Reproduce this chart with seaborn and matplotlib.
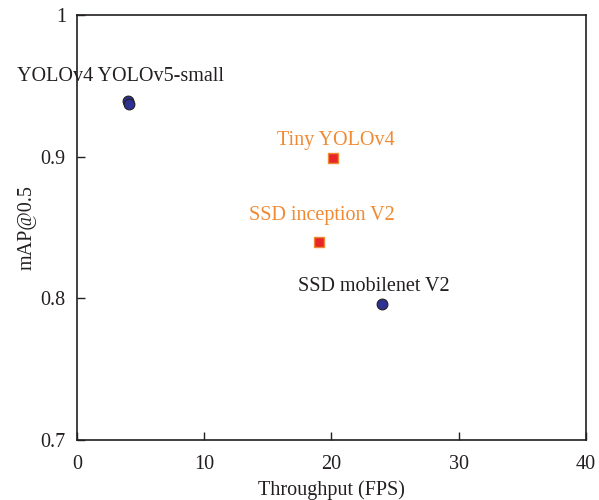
import pandas as pd
import matplotlib.pyplot as plt
import seaborn as sns

# data
models = ['YOLOv4', 'YOLOv5-small', 'Tiny YOLOv4', 'SSD inception V2', 'SSD mobilenet V2']
fps = [4.0, 4.1, 20.1, 19.0, 24.0]
map50 = [0.939, 0.937, 0.899, 0.840, 0.796]
group = ['circle', 'circle', 'square', 'square', 'circle']

df = pd.DataFrame({'model': models, 'fps': fps, 'map': map50, 'group': group})

sns.set_theme(style='ticks')
plt.rcParams['font.family'] = ['Liberation Serif', 'DejaVu Serif']

fig = plt.figure(figsize=(5.99, 5.0), dpi=100)
ax = fig.add_axes([0.1285, 0.12, 0.8495, 0.85])

circ = df[df['group'] == 'circle']
sq = df[df['group'] == 'square']
sns.scatterplot(data=circ, x='fps', y='map', ax=ax, marker='o', s=60,
                color='#2e3192', edgecolor='#231f20', linewidth=0.8, zorder=3)
sns.scatterplot(data=sq, x='fps', y='map', ax=ax, marker='s', s=55,
                color='#e8262a', edgecolor='#f08a32', linewidth=1.0, zorder=3)

dark = '#231f20'
orange = '#f08a32'
fs = 14.5
ax.annotate('YOLOv4 YOLOv5-small', (fps[0], map50[0]), xytext=(-5, 11),
            textcoords='offset points', ha='center', va='bottom', fontsize=fs, color=dark)
ax.annotate('Tiny YOLOv4', (fps[2], map50[2]), xytext=(2, 6),
            textcoords='offset points', ha='center', va='bottom', fontsize=fs, color=orange)
ax.annotate('SSD inception V2', (fps[3], map50[3]), xytext=(2, 12),
            textcoords='offset points', ha='center', va='bottom', fontsize=fs, color=orange)
ax.annotate('SSD mobilenet V2', (fps[4], map50[4]), xytext=(-6, 6),
            textcoords='offset points', ha='center', va='bottom', fontsize=fs, color=dark)

ax.set_xlim(0, 40)
ax.set_ylim(0.7, 1.0)
ax.set_xticks([0, 10, 20, 30, 40])
ax.set_yticks([0.7, 0.8, 0.9, 1.0])
ax.set_yticklabels(['0.7', '0.8', '0.9', '1'])
ax.tick_params(direction='in', length=6, width=1, labelsize=fs, colors=dark)
ax.tick_params(axis='x', pad=11)
ax.tick_params(axis='y', pad=8)
ax.set_xlabel('Throughput (FPS)', fontsize=fs, color=dark, labelpad=4)
ax.set_ylabel('mAP@0.5', fontsize=fs, color=dark, labelpad=3)
for sp in ax.spines.values():
    sp.set_visible(True)
    sp.set_color(dark)
    sp.set_linewidth(1.2)

fig.savefig('out.png', dpi=100)
